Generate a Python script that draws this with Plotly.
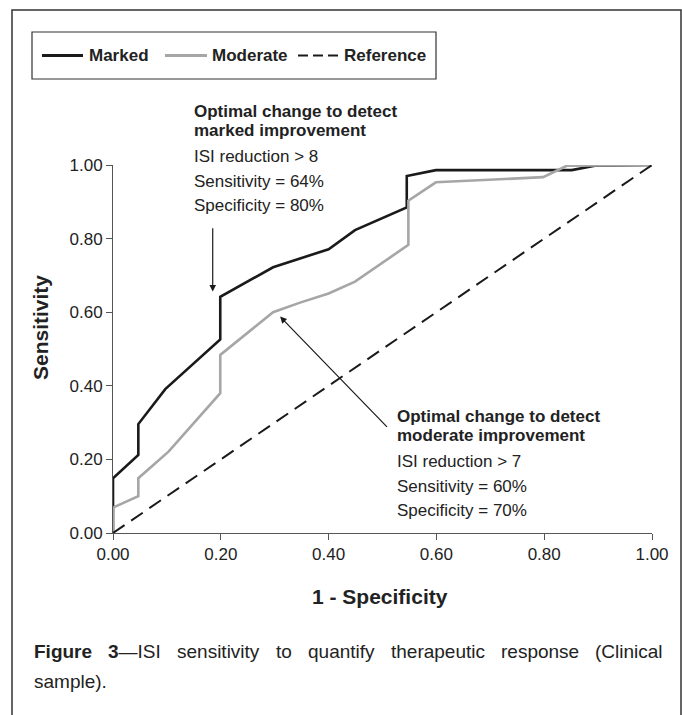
import plotly.graph_objects as go

# ---- data ----
marked_x = [0.0, 0.0, 0.047, 0.047, 0.097, 0.149, 0.199, 0.199, 0.297, 0.347, 0.40, 0.449, 0.545, 0.545, 0.599, 0.851, 0.894, 1.0]
marked_y = [0.0, 0.149, 0.212, 0.296, 0.391, 0.461, 0.526, 0.642, 0.722, 0.746, 0.771, 0.823, 0.885, 0.970, 0.986, 0.986, 0.998, 1.0]

moderate_x = [0.0, 0.0, 0.047, 0.047, 0.103, 0.199, 0.199, 0.297, 0.347, 0.40, 0.449, 0.548, 0.548, 0.599, 0.798, 0.842, 1.0]
moderate_y = [0.0, 0.069, 0.100, 0.149, 0.221, 0.380, 0.484, 0.600, 0.626, 0.651, 0.683, 0.783, 0.903, 0.953, 0.967, 0.998, 1.0]

reference_x = [0.0, 1.0]
reference_y = [0.0, 1.0]

tick_vals = [0.0, 0.2, 0.4, 0.6, 0.8, 1.0]
tick_text = ["0.00", "0.20", "0.40", "0.60", "0.80", "1.00"]

series_names = ["Marked", "Moderate", "Reference"]

marked_note = ["Optimal change to detect", "marked improvement", "ISI reduction > 8", "Sensitivity = 64%", "Specificity = 80%"]
moderate_note = ["Optimal change to detect", "moderate improvement", "ISI reduction > 7", "Sensitivity = 60%", "Specificity = 70%"]
# arrow (tip x, tip y, tail x, tail y) in data units
marked_arrow = [0.185, 0.656, 0.185, 0.832]
moderate_arrow = [0.31, 0.588, 0.511, 0.2845]

caption_words = ["<b>Figure</b>", "<b>3</b>—ISI", "sensitivity", "to", "quantify", "therapeutic", "response", "(Clinical"]
caption_line2 = "sample)."

# ---- layout geometry (pixels) ----
W, H = 682, 715
L, R, T, B = 113, 652, 165, 533
FONT = "Liberation Sans Narrow, Arial Narrow, Liberation Sans, Arial, sans-serif"
BLACK = "#1a1a1a"
GRAY = "#a6a6a6"
TXT = "#222222"


def px(xp):
    return (xp - L) / (R - L)


def py(yp):
    return (B - yp) / (B - T)


fig = go.Figure()
fig.add_trace(go.Scatter(x=marked_x, y=marked_y, mode="lines", name=series_names[0],
                         line=dict(color=BLACK, width=2.6), cliponaxis=False, showlegend=False))
fig.add_trace(go.Scatter(x=moderate_x, y=moderate_y, mode="lines", name=series_names[1],
                         line=dict(color=GRAY, width=2.6), cliponaxis=False, showlegend=False))
fig.add_trace(go.Scatter(x=reference_x, y=reference_y, mode="lines", name=series_names[2],
                         line=dict(color=BLACK, width=2, dash="14px,8px"), cliponaxis=False, showlegend=False))

axis_common = dict(range=[0, 1], tickvals=tick_vals, ticktext=tick_text, showgrid=False, zeroline=False,
                   showline=True, linecolor="#555555", linewidth=1, ticks="outside", ticklen=6,
                   tickcolor="#555555", tickwidth=1, tickfont=dict(family=FONT, size=17, color=TXT))
fig.update_xaxes(**axis_common)
fig.update_yaxes(**axis_common)

shapes = []
# outer frame
shapes.append(dict(type="rect", xref="paper", yref="paper", x0=px(12), x1=px(681), y0=py(10), y1=py(730),
                   line=dict(color="#333333", width=1.5), fillcolor="rgba(0,0,0,0)", layer="below"))
# legend box
shapes.append(dict(type="rect", xref="paper", yref="paper", x0=px(32), x1=px(436), y0=py(32), y1=py(79),
                   line=dict(color="#333333", width=1.2), fillcolor="white"))
ly = py(55.5)
shapes.append(dict(type="line", xref="paper", yref="paper", x0=px(42), x1=px(83), y0=ly, y1=ly,
                   line=dict(color=BLACK, width=3)))
shapes.append(dict(type="line", xref="paper", yref="paper", x0=px(165), x1=px(207), y0=ly, y1=ly,
                   line=dict(color=GRAY, width=3)))
shapes.append(dict(type="line", xref="paper", yref="paper", x0=px(298), x1=px(340), y0=ly, y1=ly,
                   line=dict(color=BLACK, width=2, dash="10px,5px")))

annotations = []
for txt, x0 in zip(series_names, [87, 210, 342]):
    annotations.append(dict(text="<b>%s</b>" % txt, xref="paper", yref="paper", x=px(x0), y=ly,
                            xanchor="left", yanchor="middle", showarrow=False,
                            font=dict(family=FONT, size=17, color=TXT)))


def note_block(lines, left, centers):
    for i, (t, c) in enumerate(zip(lines, centers)):
        annotations.append(dict(text=("<b>%s</b>" % t) if i < 2 else t, xref="paper", yref="paper",
                                x=px(left), y=py(c), xanchor="left", yanchor="middle", showarrow=False,
                                font=dict(family=FONT, size=17, color=TXT)))


note_block(marked_note, 192, [112, 130, 156, 181, 205])
note_block(moderate_note, 395, [416, 435, 461, 486, 510])

for a in (marked_arrow, moderate_arrow):
    annotations.append(dict(x=a[0], y=a[1], ax=a[2], ay=a[3], xref="x", yref="y", axref="x", ayref="y",
                            text="", showarrow=True, arrowhead=2, arrowsize=1.1, arrowwidth=1.2,
                            arrowcolor=BLACK))

# axis titles
annotations.append(dict(text="<b>1 - Specificity</b>", xref="paper", yref="paper", x=px(380), y=py(596),
                        xanchor="center", yanchor="middle", showarrow=False,
                        font=dict(family=FONT, size=21, color=TXT)))
annotations.append(dict(text="<b>Sensitivity</b>", xref="paper", yref="paper", x=px(40), y=py(328),
                        xanchor="center", yanchor="middle", showarrow=False, textangle=-90,
                        font=dict(family=FONT, size=21, color=TXT)))

# caption (justified first line)
for w, x0 in zip(caption_words, [32, 106, 175, 274, 306, 389, 499, 593]):
    annotations.append(dict(text=w, xref="paper", yref="paper", x=px(x0), y=py(651), xanchor="left",
                            yanchor="middle", showarrow=False, font=dict(family=FONT, size=19, color=TXT)))
annotations.append(dict(text=caption_line2, xref="paper", yref="paper", x=px(32), y=py(681), xanchor="left",
                        yanchor="middle", showarrow=False, font=dict(family=FONT, size=19, color=TXT)))

fig.update_layout(width=W, height=H, autosize=False,
                  margin=dict(l=L, r=W - R, t=T, b=H - B, pad=0),
                  paper_bgcolor="white", plot_bgcolor="white",
                  shapes=shapes, annotations=annotations, showlegend=False)

fig.write_html("out.html")
